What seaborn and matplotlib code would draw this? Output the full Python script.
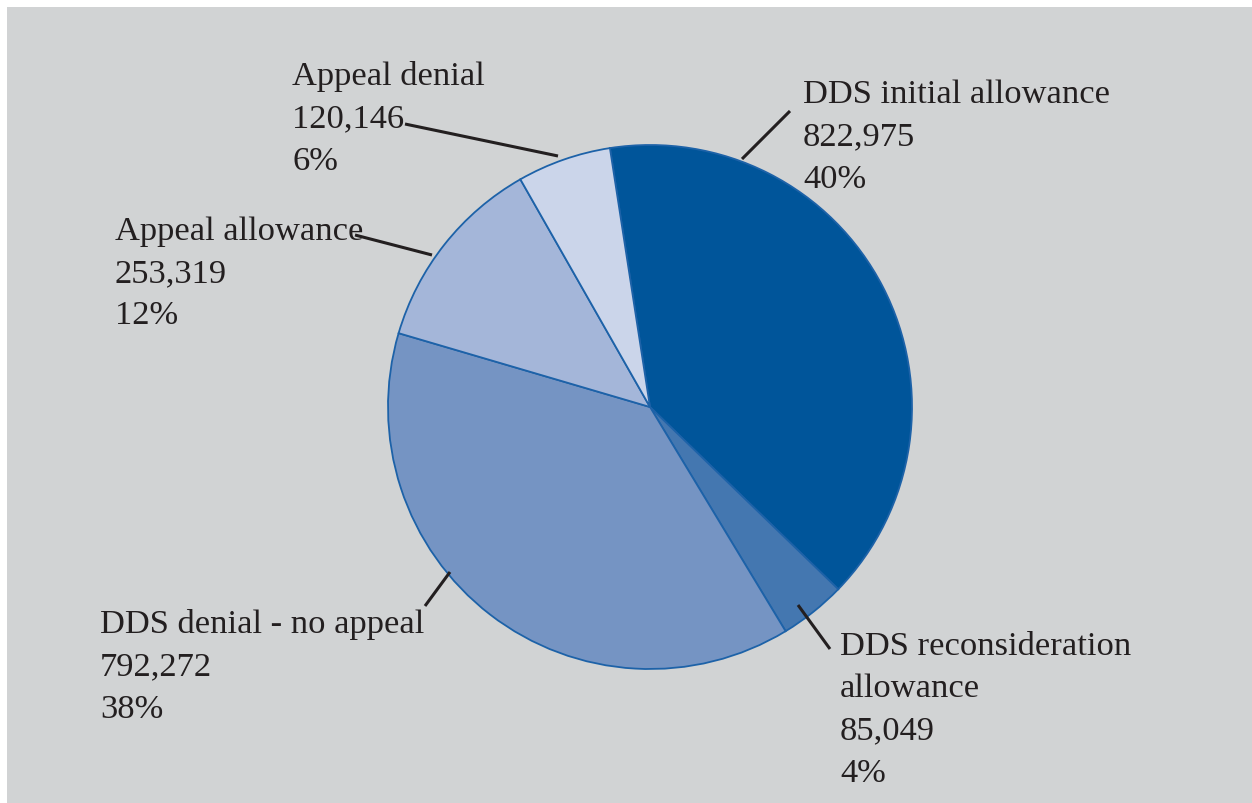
"""
Disability determination outcomes - pie chart with callout labels
"""

import matplotlib.pyplot as plt
from matplotlib.patches import Rectangle
import seaborn as sns

# Data
categories = ['DDS initial allowance', 'DDS reconsideration\nallowance',
              'DDS denial - no appeal', 'Appeal allowance', 'Appeal denial']
counts = [822975, 85049, 792272, 253319, 120146]
colors = ['#00559a', '#4477b0', '#7594c3', '#a4b6d9', '#cbd5ea']

# Label layout (pixel coordinates from top-left): text anchor, leader line ends
label_xy = [(803, 137), (840, 710), (100, 667), (115, 274), (292, 119)]
leader_lines = [((742, 160), (790, 112)),
                ((830, 650), (798, 606)),
                ((425, 607), (450, 573)),
                ((355, 236), (432, 256)),
                ((405, 125), (558, 157))]

W, H = 1252, 804
sns.set_theme(style='white')
plt.rcParams['font.family'] = ['Liberation Serif', 'DejaVu Serif']

fig = plt.figure(figsize=(W / 100, H / 100), dpi=100, facecolor='#d1d3d4')
ax = fig.add_axes([0, 0, 1, 1])
ax.set_facecolor('#d1d3d4')


def py(y):
    # convert pixel row to data y
    return H - y


total = sum(counts)
ax.pie(counts, colors=colors, startangle=98.8, counterclock=False,
       center=(650, py(408)), radius=262, frame=True,
       wedgeprops=dict(edgecolor='#1d62a8', linewidth=1.3))
ax.set_aspect('auto')
ax.set_xlim(0, W)
ax.set_ylim(0, H)
ax.set_xticks([])
ax.set_yticks([])
for s in ax.spines.values():
    s.set_visible(False)

# white page margin along the top and left edges
ax.add_patch(Rectangle((0, H - 8), W, 8, color='white', lw=0))
ax.add_patch(Rectangle((0, 0), 7, H, color='white', lw=0))

for name, n, (tx, ty), ((x0, y0), (x1, y1)) in zip(categories, counts, label_xy, leader_lines):
    pct = round(100 * n / total)
    ax.plot([x0, x1], [py(y0), py(y1)], color='#231f20', lw=2.2, solid_capstyle='butt')
    ax.text(tx, py(ty), f'{name}\n{n:,}\n{pct}%', ha='left', va='center',
            fontsize=24.8, color='#231f20', linespacing=1.5)

plt.savefig('out.png', dpi=100, facecolor='#d1d3d4')
